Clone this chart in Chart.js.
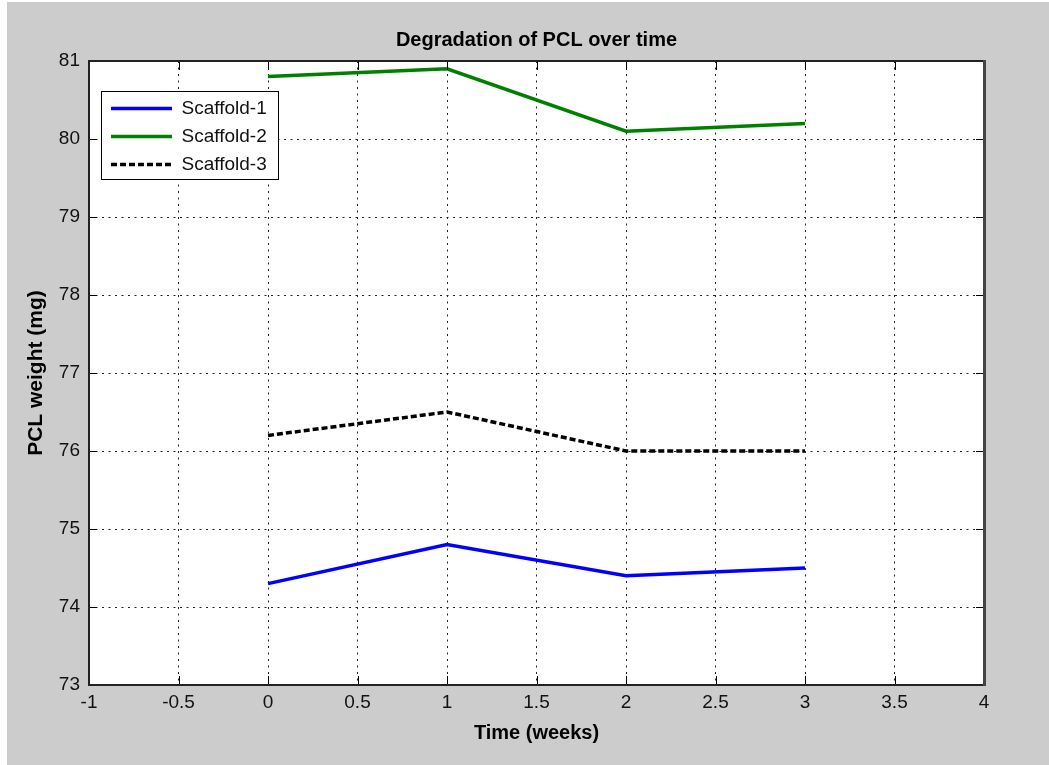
<!DOCTYPE html>
<html>
<head>
<meta charset="utf-8">
<title>Degradation of PCL over time</title>
<script src="https://cdn.jsdelivr.net/npm/chart.js@4.4.0/dist/chart.umd.min.js"></script>
<style>
  body { margin: 0; background: #fff; }
  #frame { position: absolute; left: 7px; top: 2px; width: 1042px; height: 763px; background: #cccccc; }
  canvas { display: block; }
</style>
</head>
<body>
<div id="frame"><canvas id="chart" width="1042" height="763"></canvas></div>
<script>
// Time points (weeks)
const weeks = [0, 1, 2, 3];

// PCL weight (mg) for each scaffold
const scaffold1 = [74.3, 74.8, 74.4, 74.5];
const scaffold2 = [80.8, 80.9, 80.1, 80.2];
const scaffold3 = [76.2, 76.5, 76.0, 76.0];
const seriesNames = ['Scaffold-1', 'Scaffold-2', 'Scaffold-3'];

// Axis ticks
const xTicks = [-1, -0.5, 0, 0.5, 1, 1.5, 2, 2.5, 3, 3.5, 4];
const yTicks = [73, 74, 75, 76, 77, 78, 79, 80, 81];

function toPoints(values) {
  return weeks.map((w, i) => ({ x: w, y: values[i] }));
}

Chart.defaults.font.family = '"Liberation Sans", Arial, Helvetica, sans-serif';
Chart.defaults.color = '#111';

// white plot area, like a matlab axes
const plotBackground = {
  id: 'plotBackground',
  beforeDraw(chart) {
    const a = chart.chartArea, ctx = chart.ctx;
    ctx.save();
    ctx.fillStyle = '#fff';
    ctx.fillRect(a.left, a.top, a.right - a.left, a.bottom - a.top);
    ctx.restore();
  }
};

// legend sits inside the axes with a white box around it
const legendBox = {
  id: 'legendBox',
  afterLayout(chart) {
    const lg = chart.legend;
    lg.left = 95;
    lg.top = 88;
    lg.right = lg.left + lg.width;
    lg.bottom = lg.top + lg.height;
  },
  afterDatasetsDraw(chart) {
    const ctx = chart.ctx;
    ctx.save();
    ctx.fillStyle = '#fff';
    ctx.fillRect(94.5, 89, 177, 88);
    ctx.strokeStyle = '#000';
    ctx.lineWidth = 1;
    ctx.strokeRect(94.5, 89.5, 177, 88);
    ctx.restore();
    chart.legend.draw();
  }
};

// box around the axes and the inward tick marks
const axesBox = {
  id: 'axesBox',
  afterDraw(chart) {
    const a = chart.chartArea, ctx = chart.ctx;
    const xs = chart.scales.x, ys = chart.scales.y;
    ctx.save();
    ctx.strokeStyle = '#000';
    ctx.lineWidth = 1;
    ctx.beginPath();
    xTicks.forEach(v => {
      const px = Math.round(xs.getPixelForValue(v)) + 0.5;
      ctx.moveTo(px, a.bottom); ctx.lineTo(px, a.bottom - 9);
      ctx.moveTo(px, a.top); ctx.lineTo(px, a.top + 9);
    });
    yTicks.forEach(v => {
      const py = Math.round(ys.getPixelForValue(v)) + 0.5;
      ctx.moveTo(a.left, py); ctx.lineTo(a.left + 8, py);
      ctx.moveTo(a.right, py); ctx.lineTo(a.right - 8, py);
    });
    ctx.stroke();
    ctx.strokeStyle = '#222';
    ctx.lineWidth = 2;
    ctx.strokeRect(a.left, a.top, a.right - a.left, a.bottom - a.top);
    ctx.strokeStyle = '#444';
    ctx.lineWidth = 3;
    ctx.beginPath();
    ctx.moveTo(a.right + 0.5, a.top - 1);
    ctx.lineTo(a.right + 0.5, a.bottom + 1);
    ctx.stroke();
    ctx.restore();
  }
};

const chartElement = document.getElementById('chart');

const chart = new Chart(chartElement, {
  type: 'line',
  data: {
    datasets: [
      {
        label: seriesNames[0],
        data: toPoints(scaffold1),
        borderColor: '#0000ff',
        backgroundColor: '#0000ff',
        borderWidth: 3.5
      },
      {
        label: seriesNames[1],
        data: toPoints(scaffold2),
        borderColor: '#008000',
        backgroundColor: '#008000',
        borderWidth: 3.5
      },
      {
        label: seriesNames[2],
        data: toPoints(scaffold3),
        borderColor: '#000000',
        backgroundColor: '#000000',
        borderWidth: 3.5,
        borderDash: [6, 3]
      }
    ]
  },
  options: {
    responsive: false,
    animation: false,
    events: [],
    elements: {
      line: { tension: 0, fill: false, borderCapStyle: 'butt' },
      point: { radius: 0 }
    },
    layout: { padding: { left: 0, right: 65, top: 0, bottom: 0 } },
    scales: {
      x: {
        type: 'linear',
        min: -1,
        max: 4,
        afterBuildTicks: scale => { scale.ticks = xTicks.map(v => ({ value: v })); },
        afterFit: scale => { scale.height = 80; },
        ticks: {
          padding: 6,
          font: { size: 19 },
          callback: v => String(v)
        },
        grid: { color: '#222', lineWidth: 1, drawTicks: false },
        border: { display: false, dash: [2, 4.5] },
        title: {
          display: true,
          text: 'Time (weeks)',
          color: '#000',
          font: { size: 20, weight: 'bold' },
          padding: { top: 0, bottom: 20 }
        }
      },
      y: {
        type: 'linear',
        min: 73,
        max: 81,
        afterBuildTicks: scale => { scale.ticks = yTicks.map(v => ({ value: v })); },
        afterFit: scale => { scale.width = 82; },
        ticks: {
          padding: 9,
          font: { size: 19 },
          callback: v => String(v)
        },
        grid: { color: '#222', lineWidth: 1, drawTicks: false },
        border: { display: false, dash: [2, 4.5] },
        title: {
          display: true,
          text: 'PCL weight (mg)',
          color: '#000',
          font: { size: 21, weight: 'bold' },
          padding: { top: 17, bottom: 0 }
        }
      }
    },
    plugins: {
      title: {
        display: true,
        text: 'Degradation of PCL over time',
        color: '#000',
        fullSize: false,
        font: { size: 20, weight: 'bold' },
        padding: { top: 26, bottom: 9 }
      },
      legend: {
        position: 'chartArea',
        align: 'start',
        labels: {
          usePointStyle: true,
          pointStyle: 'line',
          pointStyleWidth: 61,
          padding: 9,
          color: '#111',
          font: { size: 19 },
          generateLabels: chart => {
            const items = Chart.defaults.plugins.legend.labels.generateLabels(chart);
            items.forEach(item => {
              const ds = chart.data.datasets[item.datasetIndex];
              item.strokeStyle = ds.borderColor;
              item.lineWidth = ds.borderWidth;
              item.lineDash = ds.borderDash || [];
            });
            return items;
          }
        }
      },
      tooltip: { enabled: false }
    }
  },
  plugins: [plotBackground, legendBox, axesBox]
});
</script>
</body>
</html>
